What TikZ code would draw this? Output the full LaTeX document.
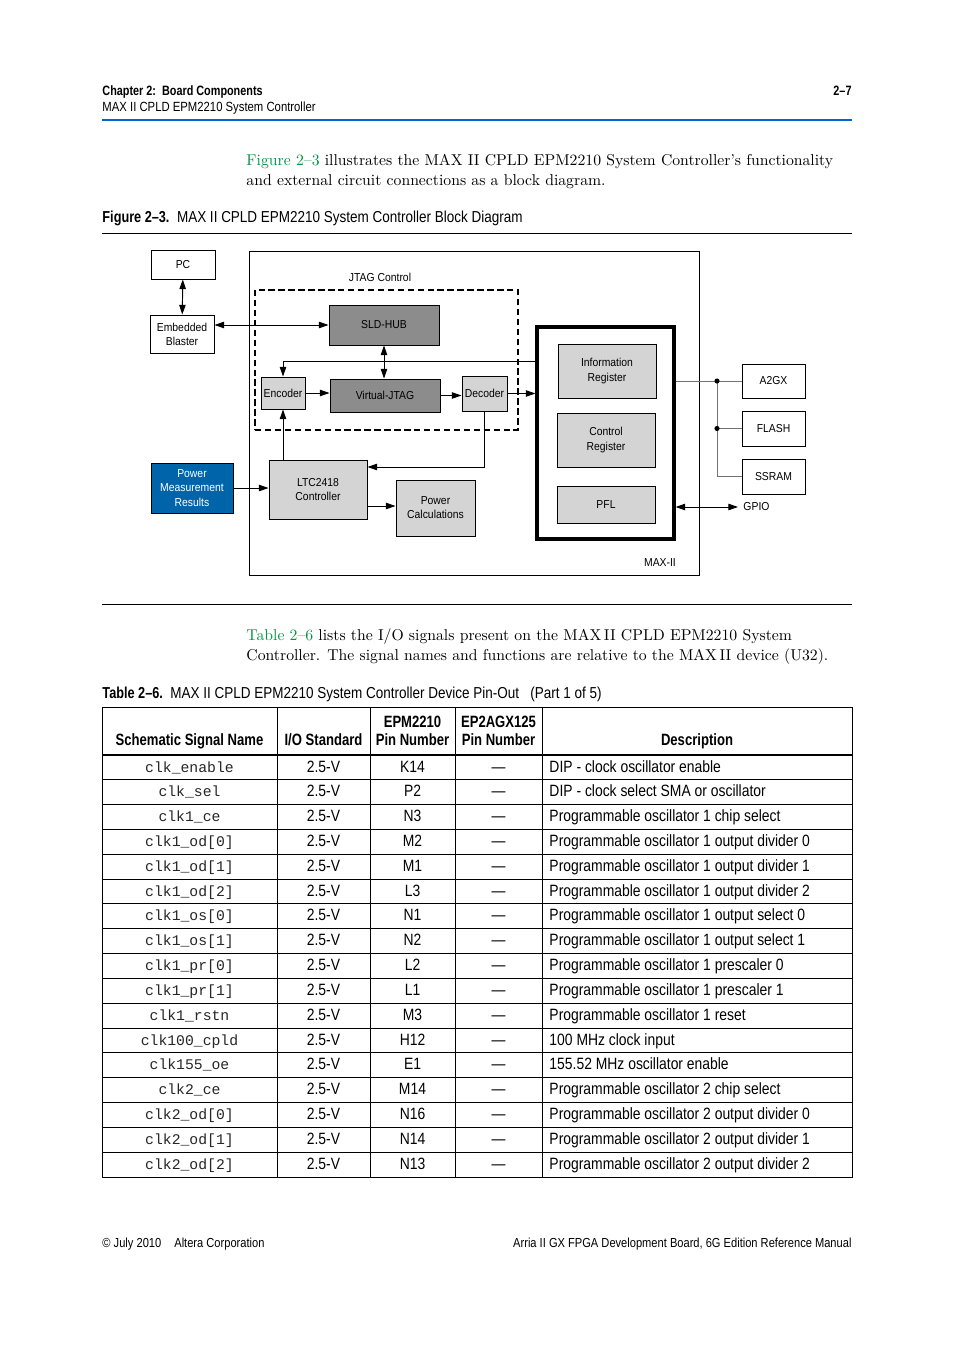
\documentclass[tikz,border=0pt]{standalone}
\usepackage{fontspec}
\usetikzlibrary{arrows.meta}
\newfontfamily\condf[FakeStretch=0.85, BoldFeatures={FakeStretch=0.8}]{Liberation Sans}
\newfontfamily\diagf[FakeStretch=0.9]{Liberation Sans}
\newfontfamily\monof{Liberation Mono}
\definecolor{hdrblue}{RGB}{0,102,204}
\definecolor{linkgreen}{RGB}{0,148,68}
\definecolor{pmblue}{RGB}{0,100,170}
\newcommand\pxu{0.6237pt}
\newcommand\hdfont{\condf\fontsize{8.3}{10}\selectfont}
\newcommand\ftfont{\condf\fontsize{8.15}{10}\selectfont}
\newcommand\hdbold{\condf\bfseries\fontsize{8.45}{10}\selectfont}
\newcommand\capfont{\condf\fontsize{9.9}{11}\selectfont}
\newcommand\tabfont{\condf\fontsize{10.2}{11}\selectfont}
\newcommand\bodyfont{\fontsize{9.8}{12.5}\selectfont}
\tikzset{
  sz/.style 2 args={minimum width=#1*\pxu, minimum height=#2*\pxu},
  blk/.style={draw, line width=0.6pt, inner sep=0pt, align=center,
    font=\diagf\fontsize{7.2}{8.8}\selectfont},
  wbox/.style={blk, fill=white},
  dkbox/.style={blk, fill=black!45},
  ltbox/.style={blk, fill=black!17},
  lbl/.style={inner sep=0pt, font=\diagf\fontsize{7.2}{8.8}\selectfont},
  txt/.style={inner sep=0pt, anchor=base west},
  >={Triangle[length=6pt,width=4pt]}
}

\begin{document}
\begin{tikzpicture}[x=\pxu, y=-\pxu, line width=0.6pt]
  \useasboundingbox[fill=white] (0,0) rectangle (954,1350);

  % page header
  \node[txt, font=\hdbold] (chap) at (102,96) {Chapter 2:\ \ Board Components};
  \node[txt, font=\hdfont] (sect) at (102,112) {MAX II CPLD EPM2210 System Controller};
  \node[txt, anchor=base east, font=\hdbold] (pgno) at (852,96) {2–7};
  \draw[hdrblue, line width=1.3pt] (102,120) -- (852,120);

  % first paragraph
  \node[txt, font=\bodyfont] (par1a) at (246,166)
    {\textcolor{linkgreen}{Figure 2–3} illustrates the MAX II CPLD EPM2210 System Controller's functionality};
  \node[txt, font=\bodyfont] (par1b) at (246,186)
    {and external circuit connections as a block diagram.};

  % figure caption
  \node[txt, font=\capfont] (figcap) at (102,223)
    {\textbf{Figure 2–3.}\ \ MAX II CPLD EPM2210 System Controller Block Diagram};
  \draw[line width=0.5pt] (102,233) -- (852,233);

  % block diagram
  \node[draw, sz={450}{324}] (maxii) at (474,413) {};
  \node[draw, dashed, line width=1.3pt, dash pattern=on 4pt off 2.2pt, sz={263}{140}] (jtag) at (386.5,360) {};
  \node[lbl] (jtaglbl) at (380,277) {JTAG Control};
  \node[lbl] (maxlbl) at (660,563) {MAX-II};

  \node[wbox, sz={64}{29}] (pc) at (183,264.5) {PC};
  \node[wbox, sz={64}{38}] (eb) at (182,334) {Embedded\\Blaster};
  \node[dkbox, sz={110}{40}] (sld) at (384,325) {SLD-HUB};
  \node[ltbox, sz={44}{32}] (enc) at (283,393) {Encoder};
  \node[dkbox, sz={110}{33}] (vj) at (385,395.5) {Virtual-JTAG};
  \node[ltbox, sz={45}{35}] (dec) at (484.5,393.5) {Decoder};

  \node[draw, line width=1.9pt, sz={137}{212}] (inner) at (605.5,433) {};
  \node[ltbox, sz={98}{54}] (info) at (607,371) {Information\\Register};
  \draw[line width=1.2pt] (info.north east) -- (info.south east) -- (info.south west);
  \node[ltbox, sz={98}{54}] (ctrl) at (606,440) {Control\\Register};
  \node[ltbox, sz={98}{37}] (pfl) at (606,504.5) {PFL};

  \node[wbox, sz={63}{34}] (a2gx) at (773.5,381) {A2GX};
  \node[wbox, sz={63}{35}] (flash) at (773.5,428.5) {FLASH};
  \node[wbox, sz={63}{35}] (ssram) at (773.5,476.5) {SSRAM};
  \node[lbl, anchor=west, inner xsep=5*\pxu] (gpio) at (738,507) {GPIO};

  \node[blk, fill=pmblue, text=white, sz={82}{50}] (pmr) at (192,488) {Power\\Measurement\\Results};
  \node[ltbox, sz={98}{59}] (ltc) at (318,489.5) {LTC2418\\Controller};
  \node[ltbox, sz={79}{56}] (pcalc) at (435.5,508) {Power\\Calculations};

  \coordinate (tap) at (0,361);
  \coordinate (ret) at (0,467);
  \coordinate (lo) at (0,506);
  \coordinate (bus) at (717,0);

  \draw[<->] (pc) -- (eb);
  \draw[<->] (eb.east |- sld.west) -- (sld.west);
  \draw[<->] (sld.south) -- (sld.south |- vj.north);
  \draw[->] (inner.west |- tap) -| (enc.north);
  \draw[->] (enc.east) -- (vj.west |- enc.east);
  \draw[->] (vj.east) -- (dec.west |- vj.east);
  \draw[->] (dec.east) -- (inner.west |- dec.east);
  \draw[->] (enc.south |- ltc.north) -- (enc.south);
  \draw[->] (dec.south) |- (ltc.east |- ret);
  \draw[->] (pmr.east) -- (ltc.west |- pmr.east);
  \draw[->] (ltc.east |- lo) -- (pcalc.west |- lo);
  \draw[black!55] (inner.east |- a2gx) -- (a2gx.west);
  \draw[black!55] (bus |- a2gx) |- (ssram.west);
  \draw[black!55] (bus |- flash) -- (flash.west);
  \fill (bus |- a2gx) circle (1.6pt) (bus |- flash) circle (1.6pt);
  \draw[<->] (inner.east |- gpio) -- (gpio.west);

  \draw[line width=0.5pt] (102,604) -- (852,604);

  % second paragraph
  \node[txt, font=\bodyfont] (par2a) at (246,640)
    {\textcolor{linkgreen}{Table 2–6} lists the I/O signals present on the MAX\,II CPLD EPM2210 System};
  \node[txt, font=\bodyfont] (par2b) at (246,660)
    {Controller. The signal names and functions are relative to the MAX\,II device (U32).};

  % table caption
  \node[txt, font=\capfont] (tabcap) at (102,698)
    {\textbf{Table 2–6.}\ \ MAX II CPLD EPM2210 System Controller Device Pin-Out\ \ \ (Part 1 of 5)};

  % table frame
  \draw (102,707) rectangle (852,1177);
  \foreach \cx in {277,370,455,542}
    \draw (\cx,707) -- (\cx,1177);
  \draw[line width=1.4pt] (102,755) -- (852,755);
  \foreach \r in {1,...,16}
    \draw (102,755+\r*24.82) -- (852,755+\r*24.82);

  % table head
  \begin{scope}[every node/.style={inner sep=0pt, anchor=base, font=\tabfont\bfseries}]
    \node (hname) at (189.5,745) {Schematic Signal Name};
    \node (hio) at (323.5,745) {I/O Standard};
    \node (hepa) at (412.5,727) {EPM2210};
    \node (hepb) at (412.5,745) {Pin Number};
    \node (hgxa) at (498.5,727) {EP2AGX125};
    \node (hgxb) at (498.5,745) {Pin Number};
    \node (hdesc) at (697,745) {Description};
  \end{scope}

  % table rows
  \foreach \nm/\pin/\ds [count=\i] in {
      clk\_enable/K14/DIP - clock oscillator enable,
      clk\_sel/P2/DIP - clock select SMA or oscillator,
      clk1\_ce/N3/Programmable oscillator 1 chip select,
      clk1\_od[0]/M2/Programmable oscillator 1 output divider 0,
      clk1\_od[1]/M1/Programmable oscillator 1 output divider 1,
      clk1\_od[2]/L3/Programmable oscillator 1 output divider 2,
      clk1\_os[0]/N1/Programmable oscillator 1 output select 0,
      clk1\_os[1]/N2/Programmable oscillator 1 output select 1,
      clk1\_pr[0]/L2/Programmable oscillator 1 prescaler 0,
      clk1\_pr[1]/L1/Programmable oscillator 1 prescaler 1,
      clk1\_rstn/M3/Programmable oscillator 1 reset,
      clk100\_cpld/H12/100 MHz clock input,
      clk155\_oe/E1/155.52 MHz oscillator enable,
      clk2\_ce/M14/Programmable oscillator 2 chip select,
      clk2\_od[0]/N16/Programmable oscillator 2 output divider 0,
      clk2\_od[1]/N14/Programmable oscillator 2 output divider 1,
      clk2\_od[2]/N13/Programmable oscillator 2 output divider 2}
  {
    \pgfmathsetmacro\by{755+(\i-1)*24.82+17}
    \node[inner sep=0pt, anchor=base, font=\monof\fontsize{9.2}{11}\selectfont, text=black!85] (sig\i) at (189.5,\by) {\nm};
    \node[inner sep=0pt, anchor=base, font=\tabfont] (io\i) at (323.5,\by) {2.5-V};
    \node[inner sep=0pt, anchor=base, font=\tabfont] (pin\i) at (412.5,\by) {\pin};
    \node[inner sep=0pt, anchor=base, font=\tabfont] (gx\i) at (498.5,\by) {—};
    \node[inner sep=0pt, anchor=base west, font=\tabfont] (desc\i) at (549,\by) {\ds};
  }

  % page footer
  \node[txt, font=\ftfont] (footl) at (102,1247) {© July 2010\quad Altera Corporation};
  \node[txt, anchor=base east, font=\ftfont] (footr) at (852,1247)
    {Arria II GX FPGA Development Board, 6G Edition Reference Manual};
\end{tikzpicture}
\end{document}
